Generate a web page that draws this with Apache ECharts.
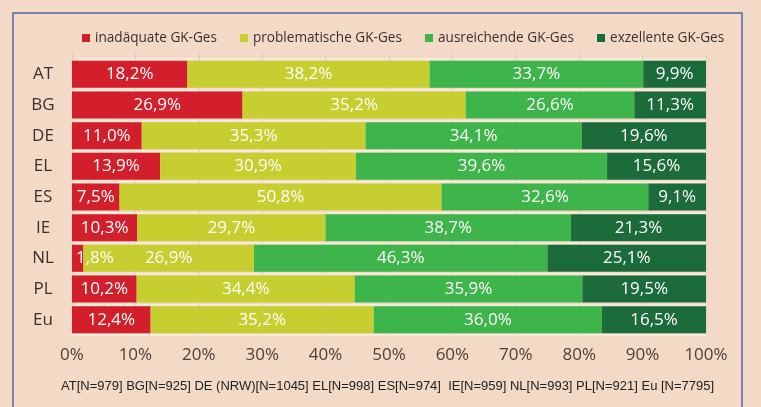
<!DOCTYPE html>
<html>
<head>
<meta charset="utf-8">
<script src="https://cdn.jsdelivr.net/npm/echarts@6/dist/echarts.min.js"></script>
<style>
html,body{margin:0;padding:0;background:#f2dac7;}
#chart{width:761px;height:407px;}
</style>
</head>
<body>
<div id="chart"></div>
<script>
const categories = ['AT','BG','DE','EL','ES','IE','NL','PL','Eu'];
const seriesNames = ['inadäquate GK-Ges','problematische GK-Ges','ausreichende GK-Ges','exzellente GK-Ges'];
const inadequate  = [18.2, 26.9, 11.0, 13.9, 7.5, 10.3, 1.8, 10.2, 12.4];
const problematic = [38.2, 35.2, 35.3, 30.9, 50.8, 29.7, 26.9, 34.4, 35.2];
const sufficient  = [33.7, 26.6, 34.1, 39.6, 32.6, 38.7, 46.3, 35.9, 36.0];
const excellent   = [9.9, 11.3, 19.6, 15.6, 9.1, 21.3, 25.1, 19.5, 16.5];
const xTicks = ['0%','10%','20%','30%','40%','50%','60%','70%','80%','90%','100%'];
const footnote = 'AT[N=979] BG[N=925] DE (NRW)[N=1045] EL[N=998] ES[N=974]  IE[N=959] NL[N=993] PL[N=921] Eu [N=7795]';

const colors = ['#d21f2b','#c6cf2f','#3db54a','#1c6b3a'];
const values = [inadequate, problematic, sufficient, excellent];
const FONT = '"Open Sans", "Noto Sans", sans-serif';

function fmt(p){ return p.value.toFixed(1).replace('.', ',') + '%'; }

const series = values.map((arr, i) => ({
  name: seriesNames[i],
  type: 'bar',
  stack: 'total',
  barCategoryGap: '12%',
  itemStyle: { color: colors[i] },
  label: {
    show: true, position: 'inside', color: '#ffffff',
    fontFamily: FONT, fontSize: 17, formatter: fmt
  },
  data: arr.map((v, j) => {
    if (i === 0 && v < 3) {
      return { value: v, label: { position: 'insideLeft', distance: 4 } };
    }
    return v;
  })
}));

const legendLefts = [82, 240, 425, 597];
const legends = seriesNames.map((n, i) => ({
  data: [n], left: legendLefts[i], top: 31, padding: 0,
  icon: 'rect', itemWidth: 8, itemHeight: 8, itemGap: 5,
  textStyle: { fontFamily: FONT, fontSize: 13.6, color: '#3a312c', padding: [0,0,0,0] }
}));

const chart = echarts.init(document.getElementById('chart'), null, { renderer: 'canvas' });
chart.setOption({
  backgroundColor: '#f2dac7',
  animation: false,
  color: colors,
  legend: legends,
  grid: { left: 72, right: 55, top: 59, bottom: 72 },
  xAxis: [{
    type: 'value', min: 0, max: 100, interval: 10,
    axisLine: { show: false }, axisTick: { show: false },
    splitLine: { show: true, lineStyle: { color: '#ddd2c6', width: 1 } },
    axisLabel: {
      fontFamily: FONT, fontSize: 17, color: '#4d4038', margin: 12,
      formatter: (v) => xTicks[Math.round(v / 10)]
    }
  }, {
    type: 'value', min: 0, max: 100, interval: 10, position: 'top',
    axisLine: { show: false },
    axisTick: { show: true, length: 6, lineStyle: { color: '#d5cabe' } },
    axisLabel: { show: false }, splitLine: { show: false }
  }],
  yAxis: {
    type: 'category', data: categories, inverse: true,
    axisLine: { show: false }, axisTick: { show: false },
    splitLine: { show: true, lineStyle: { color: '#f8efe2', width: 1.5 } },
    axisLabel: { fontFamily: FONT, fontSize: 17, color: '#3a312c', align: 'center', margin: 29 }
  },
  series: series,
  graphic: [
    { type: 'rect', shape: { x: 13, y: 13, width: 729, height: 420 },
      style: { fill: null, stroke: '#5068a8', lineWidth: 1.5 }, silent: true },
    { type: 'text', left: 61, top: 380,
      style: { text: footnote, font: '13px "Liberation Sans", Arial, sans-serif', fill: '#222' } }
  ]
});
</script>
</body>
</html>
